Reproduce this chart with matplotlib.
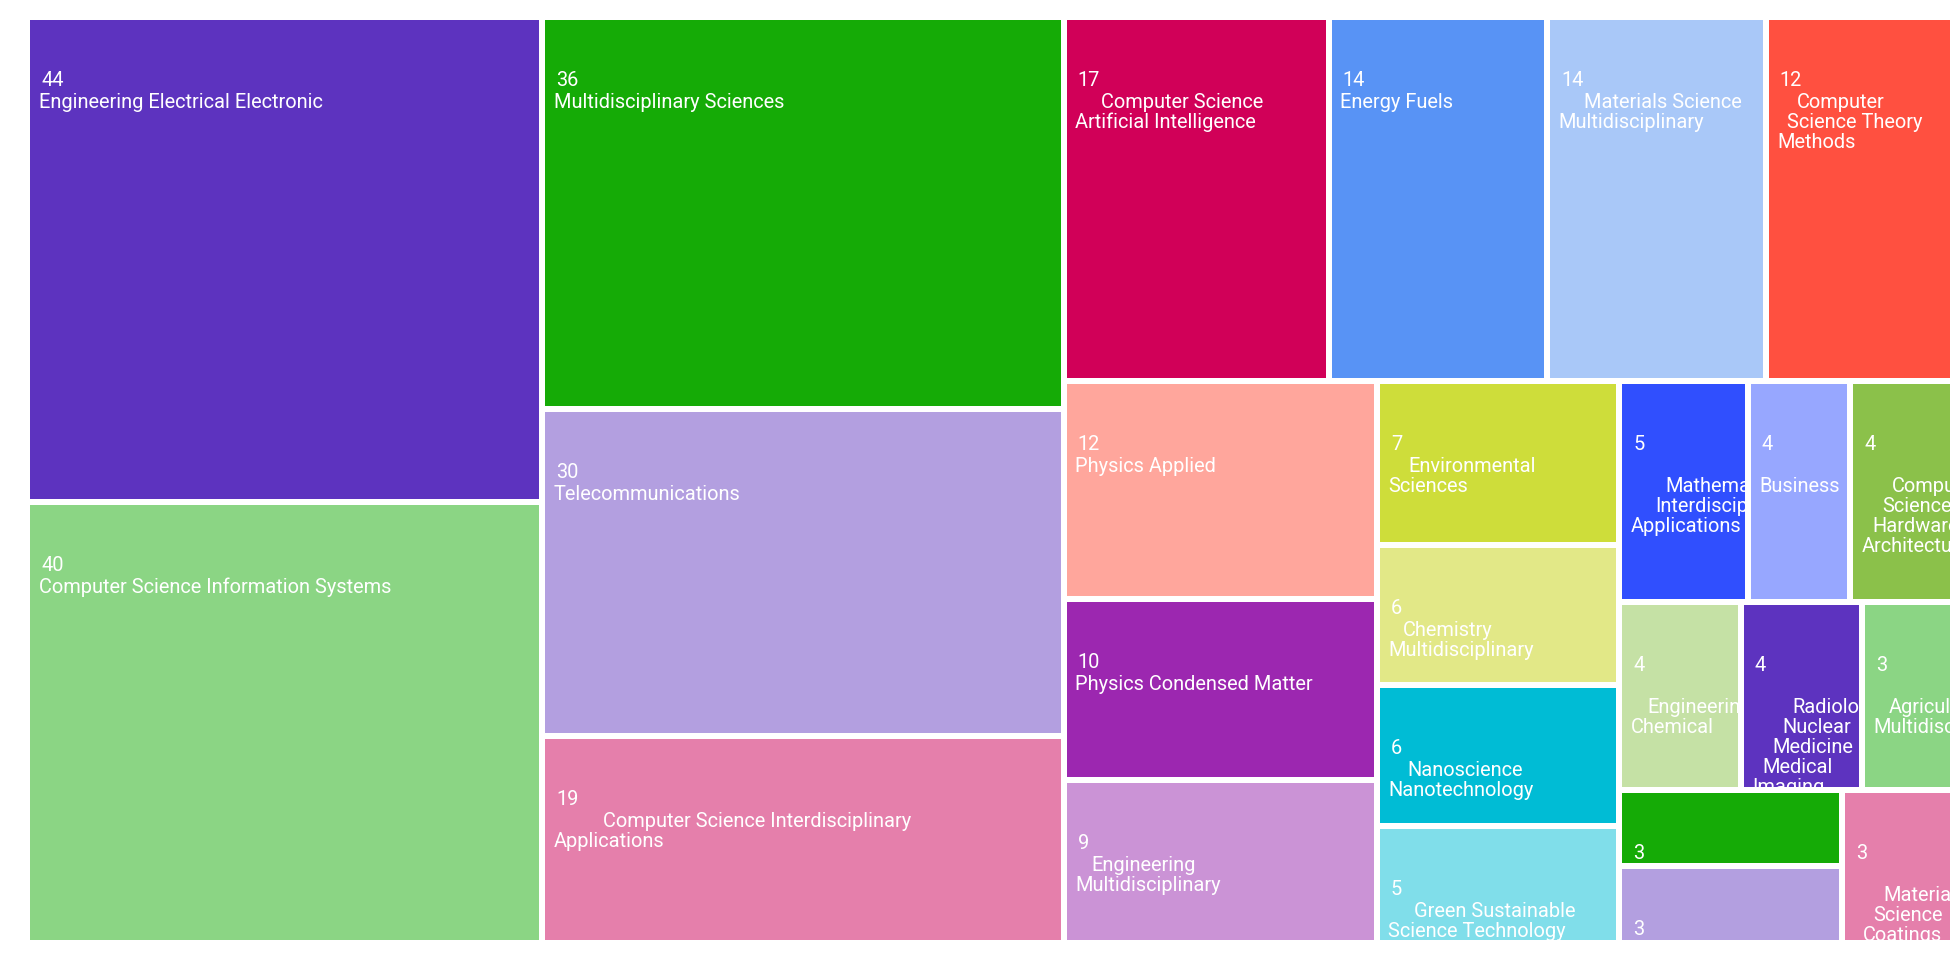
import matplotlib
matplotlib.use("Agg")
import matplotlib.pyplot as plt
from matplotlib.patches import Rectangle
from matplotlib.font_manager import FontProperties

# ---------------- data ----------------
categories = [
    "Engineering Electrical Electronic",
    "Computer Science Information Systems",
    "Multidisciplinary Sciences",
    "Telecommunications",
    "Computer Science Interdisciplinary Applications",
    "Computer Science Artificial Intelligence",
    "Energy Fuels",
    "Materials Science Multidisciplinary",
    "Computer Science Theory Methods",
    "Physics Applied",
    "Physics Condensed Matter",
    "Engineering Multidisciplinary",
    "Environmental Sciences",
    "Chemistry Multidisciplinary",
    "Nanoscience Nanotechnology",
    "Green Sustainable Science Technology",
    "Mathematics Interdisciplinary Applications",
    "Business",
    "Computer Science Hardware Architecture",
    "Engineering Chemical",
    "Radiology Nuclear Medicine Medical Imaging",
    "Agriculture Multidisciplinary",
    "Automation Control Systems",
    "Instruments Instrumentation",
    "Materials Science Coatings Films",
]
values = [44, 40, 36, 30, 19, 17, 14, 14, 12, 12, 10, 9, 7, 6, 6, 5, 5, 4, 4, 4, 4, 3, 3, 3, 3]

palette = [
    "#5d33bf", "#8bd584", "#15ab06", "#b39fe0", "#e57fab",
    "#d10058", "#5893f5", "#a9c8f8", "#ff5040", "#ffa69c",
    "#9c27b0", "#cb93d6", "#cedd3a", "#e2e887", "#00bcd5",
    "#80deea", "#304ffe", "#97a7ff", "#8bc14a", "#c5e1a5",
]

# ---------------- figure ----------------
W_PX, H_PX = 1960, 960
fig = plt.figure(figsize=(W_PX / 100, H_PX / 100), dpi=100)
ax = fig.add_axes([0, 0, 1, 1])
ax.set_xlim(0, W_PX)
ax.set_ylim(H_PX, 0)
ax.axis("off")

FS = 14.4  # points (~20 px)
FONT = FontProperties(family="Roboto", size=FS)
renderer = fig.canvas.get_renderer()


def text_w(s):
    if not s:
        return 0.0
    w, h, d = renderer.get_text_width_height_descent(s, FONT, ismath=False)
    return w


# ---------------- squarified layout (echarts style) ----------------
def squarify(vals, x, y, w, h, half_gap, ratio=(1 + 5 ** 0.5) / 2):
    total = float(sum(vals))
    order = sorted(range(len(vals)), key=lambda i: -vals[i])
    areas = {i: vals[i] / total * w * h for i in order}
    rect = {"x": x, "y": y, "w": w, "h": h}
    out = {}

    def worst(row, row_area, fixed):
        amax = max(areas[i] for i in row)
        amin = min(areas[i] for i in row)
        sq = row_area * row_area
        f = fixed * fixed * ratio
        return max(f * amax / sq, sq / (f * amin)) if sq else float("inf")

    def position(row, row_area, fixed, flush):
        horiz = fixed == rect["w"]
        other = row_area / fixed if fixed else 0
        if horiz:
            if flush or other > rect["h"]:
                other = rect["h"]
            last = rect["x"]
            end = rect["x"] + rect["w"]
        else:
            if flush or other > rect["w"]:
                other = rect["w"]
            last = rect["y"]
            end = rect["y"] + rect["h"]
        for k, i in enumerate(row):
            step = areas[i] / other if other else 0
            remain = end - last
            mod = remain if (k == len(row) - 1 or remain < step) else step
            if horiz:
                out[i] = (last + half_gap, rect["y"] + half_gap,
                          mod - 2 * half_gap, other - 2 * half_gap)
            else:
                out[i] = (rect["x"] + half_gap, last + half_gap,
                          other - 2 * half_gap, mod - 2 * half_gap)
            last += mod
        if horiz:
            rect["y"] += other
            rect["h"] -= other
        else:
            rect["x"] += other
            rect["w"] -= other

    fixed = min(rect["w"], rect["h"])
    best = float("inf")
    row, row_area = [], 0.0
    idx = 0
    while idx < len(order):
        i = order[idx]
        row.append(i)
        row_area += areas[i]
        score = worst(row, row_area, fixed)
        if score <= best:
            idx += 1
            best = score
        else:
            row.pop()
            row_area -= areas[i]
            position(row, row_area, fixed, False)
            fixed = min(rect["w"], rect["h"])
            row, row_area = [], 0.0
            best = float("inf")
    if row:
        position(row, row_area, fixed, True)
    return out


layout = squarify(values, 27, 17, 1926, 926, 3)


def wrap_words(words, width):
    lines, cur = [], ""
    for wd in words:
        trial = wd if not cur else cur + " " + wd
        if cur and text_w(trial) > width:
            lines.append(cur)
            cur = wd
        else:
            cur = trial
    if cur:
        lines.append(cur)
    return lines


PAD = 8.5
for i, name in enumerate(categories):
    x, y, w, h = layout[i]
    color = palette[i % len(palette)]
    patch = Rectangle((x, y), w, h, facecolor=color, edgecolor="none")
    ax.add_patch(patch)

    wrap_w = 0.80 * w
    words = name.split()
    if text_w(name) <= wrap_w:
        lines = [name]
        indents = [0]
    else:
        lines = wrap_words(words, wrap_w)
        n = len(lines)
        if n == 1:
            indents = [0]
            first_ind = 20
        elif n == 2:
            indents = [max(14, 0.16 * text_w(lines[0])), 0]
            first_ind = indents[0]
        else:
            indents = [10 * (n - 1 - k) for k in range(n - 1)] + [0]
            first_ind = indents[0]
        if text_w(words[0]) + first_ind > wrap_w:
            lines = [""] + lines
            indents = [0] + indents
            if n == 3:
                indents = [0] + [ind + 14 if ind else 0 for ind in indents[1:]]

    t = ax.text(x + PAD + 2.5, y + 66, str(values[i]), color="white",
                fontproperties=FONT, ha="left", va="baseline", clip_on=True)
    t.set_clip_path(patch)
    for k, (ln, ind) in enumerate(zip(lines, indents)):
        if not ln:
            continue
        t = ax.text(x + PAD + ind, y + 88 + 20 * k, ln, color="white",
                    fontproperties=FONT, ha="left", va="baseline", clip_on=True)
        t.set_clip_path(patch)

fig.savefig("out.png", dpi=100, facecolor="white")
